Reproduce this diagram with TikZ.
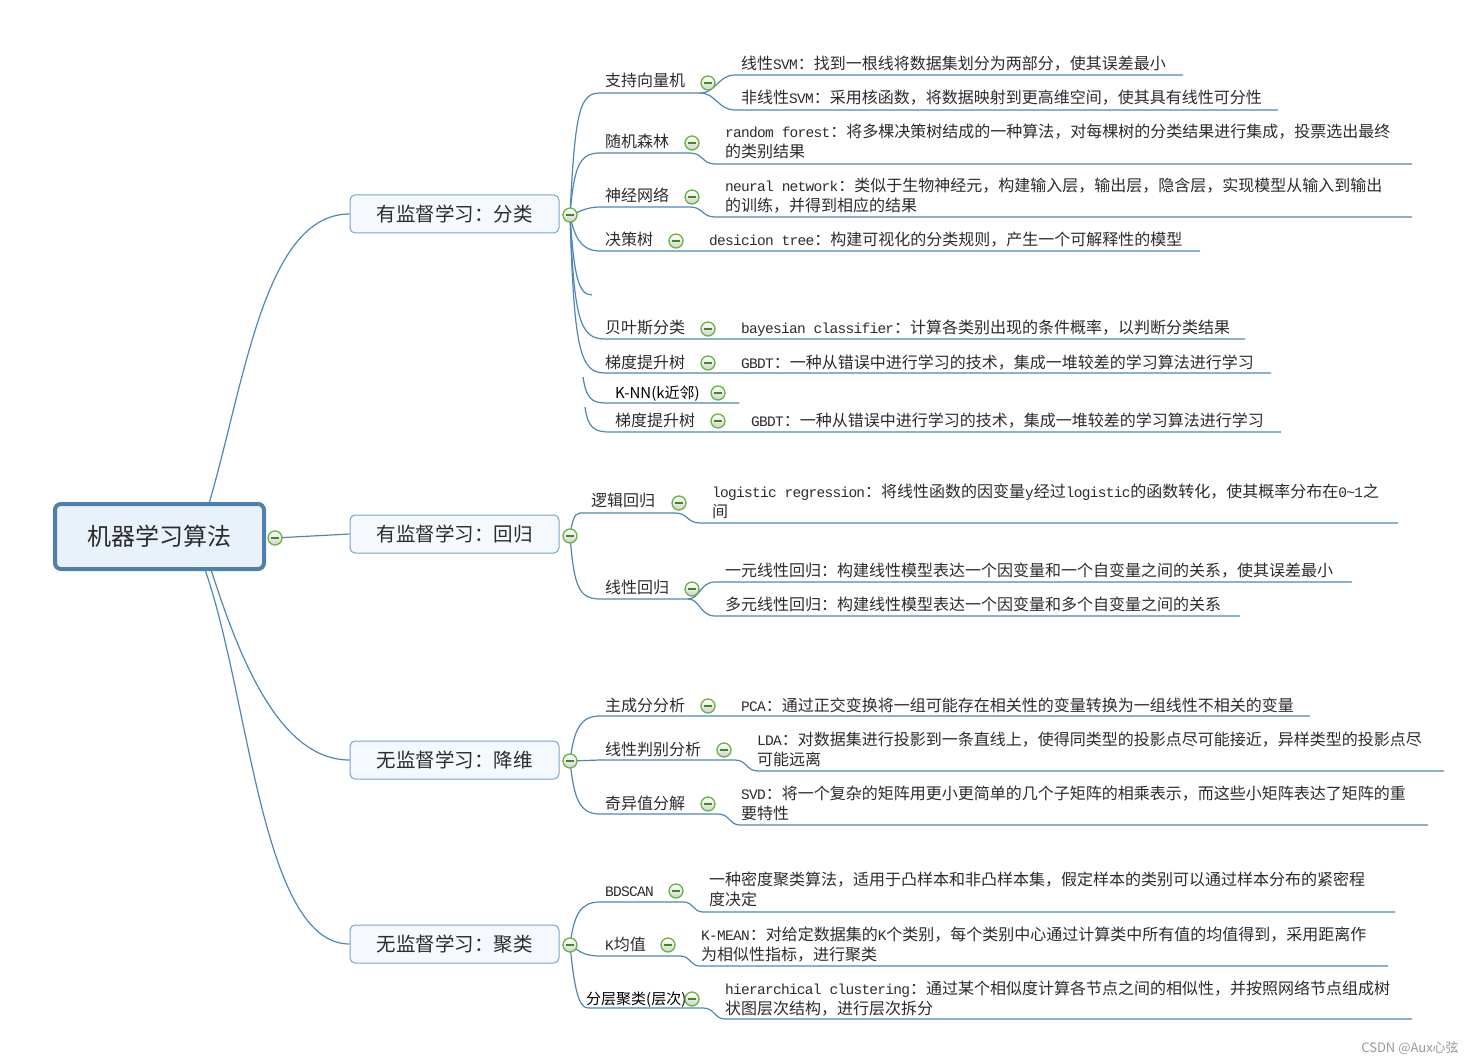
\documentclass[tikz,border=0pt]{standalone}
\usepackage{fontspec}
\setmainfont{Noto Sans CJK SC}
\newfontfamily\monof{Liberation Mono}[LetterSpace=-5]
\newcommand\lt[1]{{\fontsize{14.5}{20}\monof #1}}
\definecolor{lnc}{HTML}{4E86B8}
\definecolor{rootb}{HTML}{4C80AE}
\definecolor{rootf}{HTML}{E9F1FA}
\definecolor{boxb}{HTML}{7AA4CC}
\definecolor{boxf}{HTML}{F5F8FC}
\definecolor{tgc}{HTML}{6AB43E}
\definecolor{tgm}{HTML}{3E8A22}
\definecolor{txtc}{HTML}{2B2B2B}
\tikzset{
  conn/.style={draw=lnc, line width=1.2pt},
  txt/.style={anchor=west, inner sep=0pt, text height=13pt, text depth=1pt, font=\fontsize{16}{20}\selectfont, text=txtc},
  sanstxt/.style={txt, font=\fontsize{15}{20}\selectfont, text=black},
  tog/.style={circle, draw=tgc, line width=1.3pt, minimum size=14pt, inner sep=0pt, top color=white, bottom color=black!18,
    path picture={\draw[draw=tgm, line width=1.5pt] ([xshift=-3.8pt]path picture bounding box.center) -- ([xshift=3.8pt]path picture bounding box.center);}},
  rootbox/.style={rectangle, rounded corners=6pt, draw=rootb, line width=4pt, fill=rootf, minimum width=209pt, minimum height=65pt, font=\fontsize{24}{28}\selectfont, text=txtc},
  lone/.style={rectangle, rounded corners=5pt, draw=boxb, line width=1pt, fill=boxf, minimum width=209pt, minimum height=38pt, font=\fontsize{19.5}{24}\selectfont, text=txtc},
}
\begin{document}
\begin{tikzpicture}[x=1pt,y=-1pt]
\useasboundingbox (0,0) rectangle (1480,1064);

% root and level-1 boxes
\node[rootbox] (root) at (159.5,536.5) {机器学习算法};
\node[lone] (c1) at (454.5,214) {有监督学习：分类};
\node[lone] (c2) at (454.5,534) {有监督学习：回归};
\node[lone] (c3) at (454.5,760) {无监督学习：降维};
\node[lone] (c4) at (454.5,944) {无监督学习：聚类};

\coordinate (r0) at (275,538);
\coordinate (t1) at (570,215);
\coordinate (t2) at (570,536);
\coordinate (t3) at (570,761);
\coordinate (t4) at (570,945);

\draw[conn] ([xshift=50pt]root.north) .. controls (245,380) and (265,214) .. (c1.west);
\draw[conn] (r0) -- (c2.west);
\draw[conn] ([xshift=52pt]root.south) .. controls (240,660) and (280,760) .. (c3.west);
\draw[conn] ([xshift=46pt]root.south) .. controls (250,700) and (262,944) .. (c4.west);

% ---------- classification ----------
\coordinate (a1s) at (600,93); \coordinate (a1e) at (700,93);
\coordinate (a1x) at (735,75); \coordinate (a1xe) at (1183,75);
\coordinate (a1y) at (735,110); \coordinate (a1ye) at (1278,110);
\draw[conn] (t1) .. controls (575,110) and (580,93) .. (a1s) -- (a1e);
\draw[conn] (a1e) .. controls (716,93) and (718,75) .. (a1x) -- (a1xe);
\draw[conn] (a1e) .. controls (716,93) and (718,110) .. (a1y) -- (a1ye);
\node[txt] (n1) at (605,81) {支持向量机};
\node[txt] (n1a) at (741,64) {线性\lt{SVM}：找到一根线将数据集划分为两部分，使其误差最小};
\node[txt] (n1b) at (741,98) {非线性\lt{SVM}：采用核函数，将数据映射到更高维空间，使其具有线性可分性};

\coordinate (a2s) at (600,153); \coordinate (a2e) at (690,153);
\coordinate (a2x) at (715,164); \coordinate (a2xe) at (1412,164);
\draw[conn] (t1) .. controls (574,165) and (580,153) .. (a2s) -- (a2e) .. controls (703,153) and (702,164) .. (a2x) -- (a2xe);
\node[txt] (n2) at (605,142) {随机森林};
\node[txt] (n2a) at (725,132) {\lt{random forest}：将多棵决策树结成的一种算法，对每棵树的分类结果进行集成，投票选出最终};
\node[txt] (n2b) at (725,152) {的类别结果};

\coordinate (a3s) at (600,207); \coordinate (a3e) at (690,207);
\coordinate (a3x) at (715,217); \coordinate (a3xe) at (1412,217);
\draw[conn] (t1) .. controls (578,213) and (585,207) .. (a3s) -- (a3e) .. controls (703,207) and (702,217) .. (a3x) -- (a3xe);
\node[txt] (n3) at (605,196) {神经网络};
\node[txt] (n3a) at (725,186) {\lt{neural network}：类似于生物神经元，构建输入层，输出层，隐含层，实现模型从输入到输出};
\node[txt] (n3b) at (725,206) {的训练，并得到相应的结果};

\coordinate (a4s) at (600,251); \coordinate (a4e) at (1200,251);
\draw[conn] (t1) .. controls (574,235) and (580,251) .. (a4s) -- (a4e);
\node[txt] (n4) at (605,240) {决策树};
\node[txt] (n4a) at (709,240) {\lt{desicion tree}：构建可视化的分类规则，产生一个可解释性的模型};

\coordinate (a5) at (592,295);
\draw[conn] (t1) .. controls (574,275) and (578,295) .. (a5);

\coordinate (a6s) at (605,339); \coordinate (a6e) at (1245,339);
\draw[conn] (t1) .. controls (574,320) and (580,339) .. (a6s) -- (a6e);
\node[txt] (n6) at (605,328) {贝叶斯分类};
\node[txt] (n6a) at (741,328) {\lt{bayesian classifier}：计算各类别出现的条件概率，以判断分类结果};

\coordinate (a7s) at (605,373); \coordinate (a7e) at (1271,373);
\draw[conn] (t1) .. controls (574,350) and (580,373) .. (a7s) -- (a7e);
\node[txt] (n7) at (605,362) {梯度提升树};
\node[txt] (n7a) at (741,362) {\lt{GBDT}：一种从错误中进行学习的技术，集成一堆较差的学习算法进行学习};

\coordinate (a8f) at (583,377); \coordinate (a8s) at (605,403); \coordinate (a8e) at (739,403);
\draw[conn] (a8f) .. controls (586,398) and (592,403) .. (a8s) -- (a8e);
\node[sanstxt] (n8) at (615,393) {K-NN(k近邻)};

\coordinate (a9f) at (585,407); \coordinate (a9s) at (610,432); \coordinate (a9e) at (1281,432);
\draw[conn] (a9f) .. controls (588,428) and (594,432) .. (a9s) -- (a9e);
\node[txt] (n9) at (615,420) {梯度提升树};
\node[txt] (n9a) at (751,420) {\lt{GBDT}：一种从错误中进行学习的技术，集成一堆较差的学习算法进行学习};

% ---------- regression ----------
\coordinate (b1s) at (580,513); \coordinate (b1e) at (675,513);
\coordinate (b1x) at (700,523); \coordinate (b1xe) at (1398,523);
\draw[conn] (t2) .. controls (572,522) and (574,513) .. (b1s) -- (b1e) .. controls (688,513) and (687,523) .. (b1x) -- (b1xe);
\node[txt] (m1) at (591,500) {逻辑回归};
\node[txt] (m1a) at (712,491) {\lt{logistic regression}：将线性函数的因变量\lt{y}经过\lt{logistic}的函数转化，使其概率分布在\lt{0\textasciitilde 1}之};
\node[txt] (m1b) at (712,511) {间};

\coordinate (b2s) at (600,599); \coordinate (b2e) at (688,599);
\coordinate (b2x) at (715,582); \coordinate (b2xe) at (1352,582);
\coordinate (b2y) at (715,616); \coordinate (b2ye) at (1240,616);
\draw[conn] (t2) .. controls (574,585) and (578,599) .. (b2s) -- (b2e);
\draw[conn] (b2e) .. controls (700,599) and (700,582) .. (b2x) -- (b2xe);
\draw[conn] (b2e) .. controls (700,599) and (700,616) .. (b2y) -- (b2ye);
\node[txt] (m2) at (605,587) {线性回归};
\node[txt] (m2a) at (725,570) {一元线性回归：构建线性模型表达一个因变量和一个自变量之间的关系，使其误差最小};
\node[txt] (m2b) at (725,604) {多元线性回归：构建线性模型表达一个因变量和多个自变量之间的关系};

% ---------- dimensionality reduction ----------
\coordinate (d1s) at (600,716); \coordinate (d1e) at (1310,716);
\draw[conn] (t3) .. controls (574,730) and (580,716) .. (d1s) -- (d1e);
\node[txt] (k1) at (605,705) {主成分分析};
\node[txt] (k1a) at (741,705) {\lt{PCA}：通过正交变换将一组可能存在相关性的变量转换为一组线性不相关的变量};

\coordinate (d2s) at (600,760); \coordinate (d2e) at (735,760);
\coordinate (d2x) at (758,771); \coordinate (d2xe) at (1444,771);
\draw[conn] (t3) -- (d2s) -- (d2e) .. controls (747,760) and (746,771) .. (d2x) -- (d2xe);
\node[txt] (k2) at (605,749) {线性判别分析};
\node[txt] (k2a) at (757,739) {\lt{LDA}：对数据集进行投影到一条直线上，使得同类型的投影点尽可能接近，异样类型的投影点尽};
\node[txt] (k2b) at (757,759) {可能远离};

\coordinate (d3s) at (600,814); \coordinate (d3e) at (718,814);
\coordinate (d3x) at (740,825); \coordinate (d3xe) at (1428,825);
\draw[conn] (t3) .. controls (574,800) and (580,814) .. (d3s) -- (d3e) .. controls (730,814) and (729,825) .. (d3x) -- (d3xe);
\node[txt] (k3) at (605,803) {奇异值分解};
\node[txt] (k3a) at (741,793) {\lt{SVD}：将一个复杂的矩阵用更小更简单的几个子矩阵的相乘表示，而这些小矩阵表达了矩阵的重};
\node[txt] (k3b) at (741,813) {要特性};

% ---------- clustering ----------
\coordinate (e1s) at (600,902); \coordinate (e1e) at (683,902);
\coordinate (e1x) at (703,912); \coordinate (e1xe) at (1395,912);
\draw[conn] (t4) .. controls (574,915) and (580,902) .. (e1s) -- (e1e) .. controls (694,902) and (693,912) .. (e1x) -- (e1xe);
\node[txt] (p1) at (605,890) {\lt{BDSCAN}};
\node[txt] (p1a) at (709,879) {一种密度聚类算法，适用于凸样本和非凸样本集，假定样本的类别可以通过样本分布的紧密程};
\node[txt] (p1b) at (709,899) {度决定};

\coordinate (e2s) at (600,956); \coordinate (e2e) at (680,956);
\coordinate (e2x) at (700,966); \coordinate (e2xe) at (1388,966);
\draw[conn] (t4) .. controls (580,952) and (585,956) .. (e2s) -- (e2e) .. controls (691,956) and (690,966) .. (e2x) -- (e2xe);
\node[txt] (p2) at (605,944) {\lt{K}均值};
\node[txt] (p2a) at (701,934) {\lt{K-MEAN}：对给定数据集的\lt{K}个类别，每个类别中心通过计算类中所有值的均值得到，采用距离作};
\node[txt] (p2b) at (701,954) {为相似性指标，进行聚类};

\coordinate (e3s) at (588,1008); \coordinate (e3e) at (703,1008);
\coordinate (e3x) at (725,1019); \coordinate (e3xe) at (1412,1019);
\draw[conn] (t4) .. controls (574,985) and (578,1008) .. (e3s) -- (e3e) .. controls (715,1008) and (714,1019) .. (e3x) -- (e3xe);
\node[sanstxt] (p3) at (586,998) {分层聚类(层次)};
\node[txt] (p3a) at (725,988) {\lt{hierarchical clustering}：通过某个相似度计算各节点之间的相似性，并按照网络节点组成树};
\node[txt] (p3b) at (725,1008) {状图层次结构，进行层次拆分};

% ---------- collapse toggles ----------
\node[tog] (g0) at (r0) {};
\node[tog] (gt1) at (t1) {};
\node[tog] (gt2) at (t2) {};
\node[tog] (gt3) at (t3) {};
\node[tog] (gt4) at (t4) {};
\node[tog] (g1) at (708,83) {};
\node[tog] (g2) at (692,143) {};
\node[tog] (g3) at (692,197) {};
\node[tog] (g4) at (676,241) {};
\node[tog] (g6) at (708,329) {};
\node[tog] (g7) at (708,363) {};
\node[tog] (g8) at (718,393) {};
\node[tog] (g9) at (718,421) {};
\node[tog] (h1) at (679,503) {};
\node[tog] (h2) at (692,589) {};
\node[tog] (h3) at (708,706) {};
\node[tog] (h4) at (724,750) {};
\node[tog] (h5) at (708,804) {};
\node[tog] (h6) at (676,891) {};
\node[tog] (h7) at (668,945) {};
\node[tog] (h8) at (692,999) {};

\node[font=\fontsize{13}{15}\selectfont, text=black!40] (wm) at (1410,1048) {CSDN @Aux心弦};
\end{tikzpicture}
\end{document}
